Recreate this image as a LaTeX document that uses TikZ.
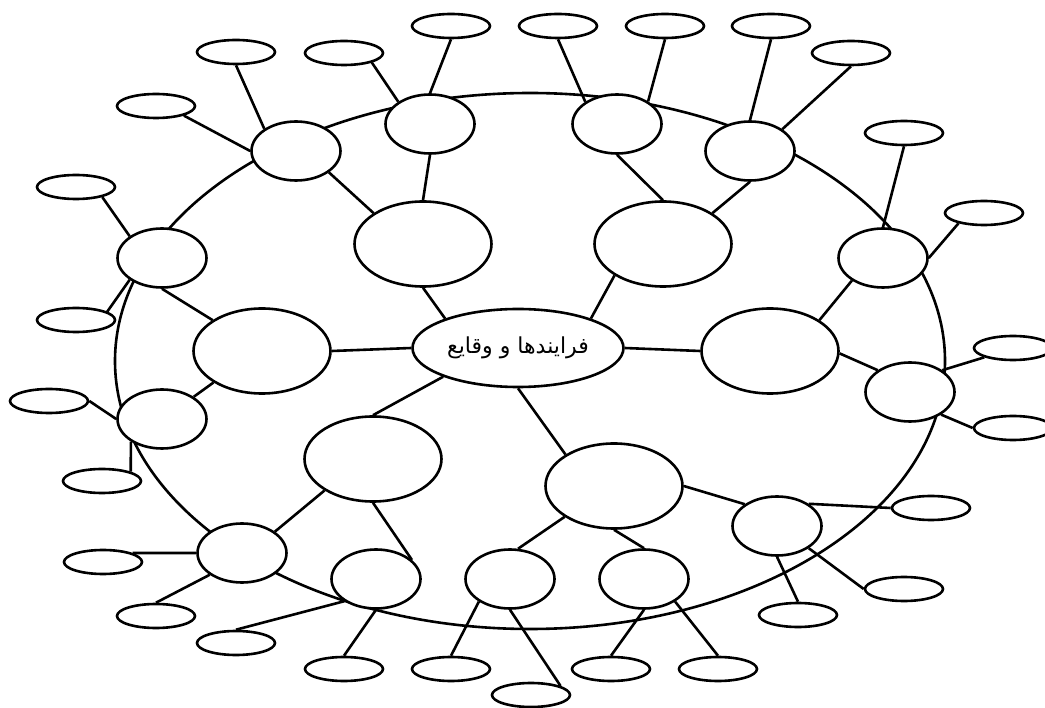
\documentclass[tikz,border=0pt]{standalone}
\usepackage{fontspec}
\usetikzlibrary{shapes.geometric}
\newfontfamily\arabicfont[Script=Arabic]{DejaVu Sans}
\TeXXeTstate=1

\begin{document}
\begin{tikzpicture}[x=1pt, y=-1pt, line width=2.6pt,
  blob/.style={draw, ellipse, fill=white, inner sep=0pt},
  hub/.style={blob, minimum width=211pt, minimum height=78pt},
  big/.style={blob, minimum width=137pt, minimum height=85pt},
  mid/.style={blob, minimum width=89pt, minimum height=59pt},
  leaf/.style={blob, minimum width=78pt, minimum height=24pt}]

  \useasboundingbox (0,0) rectangle (1045,708);
  \clip (0,0) rectangle (1045,708);

  %% the ring behind the middle circles
  \draw (530,361) ellipse [x radius=415pt, y radius=268pt];

  %% centre
  \node[hub] (hub) at (518,348) {\fontsize{22}{26}\selectfont\arabicfont\beginR فرایندها و وقایع\endR};

  %% big ones
  \node[big] (bUL) at (423,244) {};
  \node[big] (bUR) at (663,244) {};
  \node[big] (bL)  at (262,351) {};
  \node[big] (bR)  at (770,351) {};
  \node[big] (bLL) at (373,459) {};
  \node[big] (bLR) at (614,486) {};

  %% middle ones, on the ring
  \node[mid] (ma) at (296,151) {};
  \node[mid] (mb) at (430,124) {};
  \node[mid] (mc) at (162,258) {};
  \node[mid] (md) at (617,124) {};
  \node[mid] (me) at (750,151) {};
  \node[mid] (mf) at (883,258) {};
  \node[mid] (mg) at (162,419) {};
  \node[mid] (mm) at (910,392) {};
  \node[mid] (mh) at (242,553) {};
  \node[mid] (mi) at (376,579) {};
  \node[mid] (mj) at (510,579) {};
  \node[mid] (mk) at (644,579) {};
  \node[mid] (ml) at (777,526) {};

  %% leaves
  \node[leaf] (s1)  at (236,52)  {};
  \node[leaf] (s2)  at (344,53)  {};
  \node[leaf] (s3)  at (451,26)  {};
  \node[leaf] (s4)  at (156,106) {};
  \node[leaf] (s5)  at (76,187)  {};
  \node[leaf] (s6)  at (76,320)  {};
  \node[leaf] (s7)  at (558,26)  {};
  \node[leaf] (s8)  at (665,26)  {};
  \node[leaf] (s9)  at (771,26)  {};
  \node[leaf] (s10) at (851,53)  {};
  \node[leaf] (s11) at (904,133) {};
  \node[leaf] (s12) at (984,213) {};
  \node[leaf] (s13) at (1013,348) {};
  \node[leaf] (s14) at (1013,428) {};
  \node[leaf] (s15) at (49,401)  {};
  \node[leaf] (s16) at (102,481) {};
  \node[leaf] (s17) at (103,562) {};
  \node[leaf] (s18) at (156,616) {};
  \node[leaf] (s19) at (236,643) {};
  \node[leaf] (s20) at (344,669) {};
  \node[leaf] (s21) at (451,669) {};
  \node[leaf] (s22) at (531,695) {};
  \node[leaf] (s23) at (611,669) {};
  \node[leaf] (s24) at (718,669) {};
  \node[leaf] (s25) at (798,615) {};
  \node[leaf] (s26) at (904,589) {};
  \node[leaf] (s27) at (931,508) {};

  %% hub -> big
  \draw (hub.158) -- (bUL.south);
  \draw (hub.22)  -- (bUR.213);
  \draw (hub.west) -- (bL.east);
  \draw (hub.east) -- (bR.west);
  \draw (hub.201) -- (bLL.north);
  \draw (hub.south) -- (bLR.147);

  %% big -> middle
  \draw (bUL.148) -- (ma.327);
  \draw (bUL.north) -- (mb.south);
  \draw (bUR.north) -- (md.south);
  \draw (bUR.32) -- (me.south);
  \draw (bL.148) -- (mc.south);
  \draw (bL.213) -- (mg.35);
  \draw (bR.32) -- (mf.216);
  \draw (bR.358) -- (mm.146);
  \draw (bLL.213) -- (mh.33);
  \draw (bLL.south) -- (mi.28);
  \draw (bLR.212) -- (mj.75);
  \draw (bLR.south) -- (mk.north);
  \draw (bLR.east) -- (ml.146);

  %% middle -> leaves
  \draw (ma.145) -- (s1.south)   (ma.west) -- (s4.341);
  \draw (mb.145) -- (s2.341)     (mb.north) -- (s3.south);
  \draw (mc.146) -- (s5.339)     (mc.214) -- (s6.15);
  \draw (mg.west) -- (s15.east)  (mg.216) -- (s16.18);
  \draw (md.145) -- (s7.south)   (md.36) -- (s8.south);
  \draw (me.north) -- (s9.south) (me.34) -- (s10.south);
  \draw (mf.north) -- (s11.south) (mf.east) -- (s12.202);
  \draw (mm.34) -- (s13.198)     (mm.324) -- (s14.west);
  \draw (mh.west) -- (s17.17)    (mh.214) -- (s18.north);
  \draw (mi.215) -- (s19.north)  (mi.south) -- (s20.north);
  \draw (mj.216) -- (s21.north)  (mj.south) -- (s22.17);
  \draw (mk.south) -- (s23.north) (mk.324) -- (s24.north);
  \draw (ml.35) -- (s27.west)    (ml.325) -- (s26.west)  (ml.south) -- (s25.north);
\end{tikzpicture}
\end{document}
